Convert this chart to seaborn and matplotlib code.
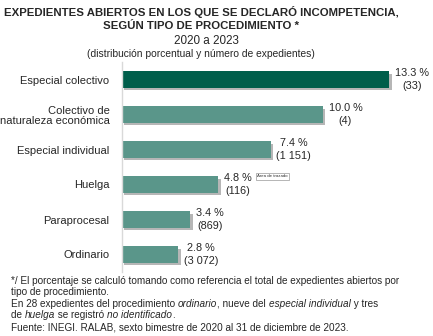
import matplotlib
matplotlib.use("Agg")
import matplotlib.pyplot as plt
import matplotlib.patheffects as pe
import seaborn as sns
import pandas as pd

categories = ["Especial colectivo", "Colectivo de\nnaturaleza económica", "Especial individual",
              "Huelga", "Paraprocesal", "Ordinario"]
percentages = [13.3, 10.0, 7.4, 4.8, 3.4, 2.8]
pct_labels = ["13.3 %", "10.0 %", "7.4 %", "4.8 %", "3.4 %", "2.8 %"]
counts = ["(33)", "(4)", "(1 151)", "(116)", "(869)", "(3 072)"]
colors = ["#005E4B", "#5A968A", "#5A968A", "#5A968A", "#5A968A", "#5A968A"]

sns.set_theme(style="white")
plt.rcParams['font.family'] = ['Liberation Sans', 'DejaVu Sans']

W, H = 433, 336
PX_PER_PCT = 20.1
fig = plt.figure(figsize=(W / 100, H / 100), dpi=100)
ax = fig.add_axes([122 / W, 1 - 272 / H, 300 / W, 210 / H])

df = pd.DataFrame({"cat": categories, "pct": percentages})
sns.barplot(data=df, x="pct", y="cat", hue="cat", palette=colors, legend=False,
            width=0.46, saturation=1, linewidth=0, ax=ax)

for p in ax.patches:
    p.set_edgecolor("none")
    p.set_linewidth(0)
    p.set_path_effects([pe.SimplePatchShadow(offset=(1.6, -1.6), shadow_rgbFace="#6f6f6f", alpha=0.5),
                        pe.Normal()])

ax.set_xlim(0, 300 / PX_PER_PCT)
ax.set_ylim(5.5, -0.5)
ax.set_xlabel("")
ax.set_ylabel("")
ax.set_xticks([])
ax.tick_params(axis="y", length=0, pad=9, labelsize=8)
for lab in ax.get_yticklabels():
    lab.set_multialignment("right")
    lab.set_linespacing(1.1)
for s in ["top", "right", "bottom"]:
    ax.spines[s].set_visible(False)
ax.spines["left"].set_color("#d9d9d9")
ax.spines["left"].set_linewidth(1)

for i, (v, pl, c) in enumerate(zip(percentages, pct_labels, counts)):
    ax.annotate(pl + "\n" + c, xy=(v, i), xytext=(4, 0), textcoords="offset points",
                ha="left", va="center", multialignment="center", fontsize=7.8, linespacing=1.35)

# tooltip artifact
ax.annotate("Área de trazado", xy=(4.8, 3), xytext=(28, 6), textcoords="offset points",
            ha="left", va="center", fontsize=3.2, color="#333333",
            bbox=dict(boxstyle="square,pad=0.3", fc="white", ec="#999999", lw=0.5))

# titles
cx = 201 / W
fig.text(cx, 1 - 12 / H, "EXPEDIENTES ABIERTOS EN LOS QUE SE DECLARÓ INCOMPETENCIA,",
         ha="center", va="center", fontsize=8.2, fontweight="bold")
fig.text(cx, 1 - 26 / H, "SEGÚN TIPO DE PROCEDIMIENTO *",
         ha="center", va="center", fontsize=8.2, fontweight="bold")
fig.text(206 / W, 1 - 41 / H, "2020 a 2023", ha="center", va="center", fontsize=8.4)
fig.text(cx, 1 - 54 / H, "(distribución porcentual y número de expedientes)",
         ha="center", va="center", fontsize=7.4)

# footnotes with mixed styles
fig.canvas.draw()
renderer = fig.canvas.get_renderer()
fs = 7.2
lines = [
    [("*/ El porcentaje se calculó tomando como referencia el total de expedientes abiertos por", "normal")],
    [("tipo de procedimiento.", "normal")],
    [("En 28 expedientes del procedimiento ", "normal"), ("ordinario", "italic"),
     (", nueve del ", "normal"), ("especial individual", "italic"), (" y tres", "normal")],
    [("de ", "normal"), ("huelga", "italic"), (" se registró ", "normal"),
     ("no identificado", "italic"), (".", "normal")],
    [("Fuente: INEGI. RALAB, sexto bimestre de 2020 al 31 de diciembre de 2023.", "normal")],
]
ys = [281, 292, 304, 315, 327]
for parts, yp in zip(lines, ys):
    x = 11
    for txt, style in parts:
        t = fig.text(x / W, 1 - yp / H, txt, ha="left", va="center", fontsize=fs, fontstyle=style)
        bb = t.get_window_extent(renderer=renderer)
        x += bb.width

fig.savefig("out.png", dpi=100)
